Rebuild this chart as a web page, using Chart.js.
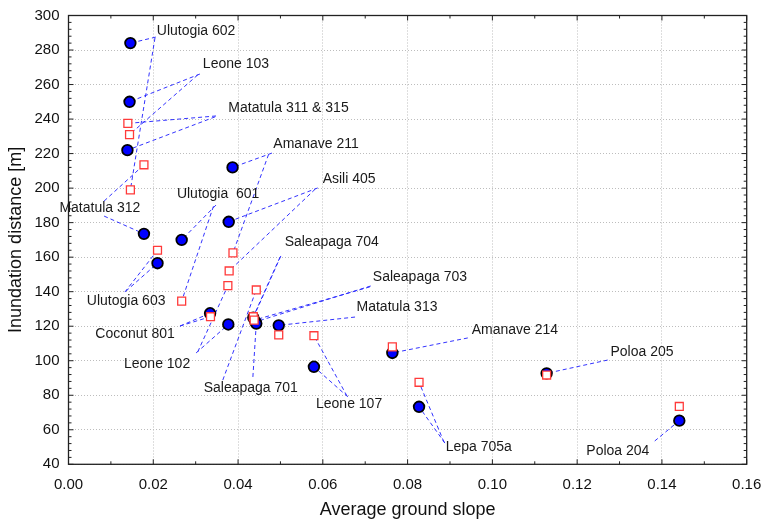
<!DOCTYPE html>
<html>
<head>
<meta charset="utf-8">
<script src="https://cdn.jsdelivr.net/npm/chart.js@4/dist/chart.umd.min.js"></script>
<style>
  html, body { margin: 0; padding: 0; background: #fff; }
  #wrap { width: 764px; height: 521px; }
</style>
</head>
<body>
<div id="wrap"><canvas id="c" width="764" height="521"></canvas></div>
<script>
// Sites, in label order
const siteNames = [
  'Ulutogia 602', 'Leone 103', 'Matatula 311 & 315', 'Amanave 211', 'Asili 405',
  'Ulutogia  601', 'Matatula 312', 'Ulutogia 603', 'Coconut 801', 'Leone 102',
  'Saleapaga 704', 'Saleapaga 703', 'Saleapaga 701', 'Matatula 313', 'Leone 107',
  'Amanave 214', 'Lepa 705a', 'Poloa 205', 'Poloa 204'
];

// Filled circles: average ground slope / inundation distance [m]
const circleSlope = [
  0.0146, 0.0144, 0.0139, 0.0387, 0.0378,
  0.0267, 0.0178, 0.0210, 0.0334, 0.0377,
  0.0436, 0.0441, 0.0443, 0.0496, 0.0579,
  0.0764, 0.0827, 0.1128, 0.1441
];
const circleDistance = [
  284, 250, 222, 212, 180.5,
  170, 173.5, 156.5, 127.5, 121,
  125, 122.5, 121.5, 120.5, 96.5,
  104.5, 73.3, 92.7, 65.3
];

// Open squares: average ground slope / inundation distance [m]
const squareSlope = [
  0.0146, 0.0144, 0.0140, 0.0388, 0.0379,
  0.0267, 0.0178, 0.0210, 0.0335, 0.0376,
  0.0436, 0.0438, 0.0443, 0.0496, 0.0579,
  0.0764, 0.0827, 0.1128, 0.1441
];
const squareDistance = [
  199, 231, 237.5, 162.5, 152,
  134.5, 213.5, 164, 125.5, 143.5,
  125.5, 123.5, 141, 115, 114.5,
  108, 87.5, 91.7, 73.5
];

// Axis ticks
const xTicks = [0.00, 0.02, 0.04, 0.06, 0.08, 0.10, 0.12, 0.14, 0.16];
const yTicks = [40, 60, 80, 100, 120, 140, 160, 180, 200, 220, 240, 260, 280, 300];

// Label text centres (axis units)
const labelSlope = [
  0.0301, 0.0395, 0.0519, 0.0584, 0.0662,
  0.0353, 0.0074, 0.0136, 0.0157, 0.0209,
  0.0621, 0.0829, 0.0430, 0.0775, 0.0662,
  0.1053, 0.0968, 0.1353, 0.1296
];
const labelDistance = [
  291.0, 271.9, 246.4, 225.6, 205.3,
  196.6, 188.5, 134.6, 115.5, 98.1,
  168.8, 148.5, 84.2, 131.1, 74.9,
  117.8, 50.0, 105.1, 47.7
];

// Leader lines: start point (axis units) and the mark it points to ('c' circle, 's' square)
const leaders = [
  [[0.0206, 287.5, 'c'], [0.0204, 287.0, 's']],
  [[0.0310, 266.1, 'c'], [0.0305, 265.6, 's']],
  [[0.0348, 241.8, 's'], [0.0346, 241.3, 'c']],
  [[0.0480, 220.3, 'c'], [0.0472, 219.5, 's']],
  [[0.0588, 200.1, 'c'], [0.0582, 199.4, 's']],
  [[0.0348, 190.2, 'c'], [0.0342, 189.5, 's']],
  [[0.0084, 183.8, 'c'], [0.0084, 192.5, 's']],
  [[0.0133, 139.8, 's'], [0.0135, 140.2, 'c']],
  [[0.0263, 120.1, 'c'], [0.0263, 120.1, 's']],
  [[0.0301, 104.5, 'c'], [0.0305, 105.2, 's']],
  [[0.0501, 160.7, 'c'], [0.0499, 160.0, 's']],
  [[0.0713, 143.3, 'c'], [0.0711, 142.8, 's']],
  [[0.0364, 88.8, 's'], [0.0435, 90.6, 'c']],
  [[0.0676, 125.3, 'c']],
  [[0.0659, 79.1, 'c'], [0.0657, 79.6, 's']],
  [[0.0942, 113.2, 'c']],
  [[0.0888, 52.3, 'c'], [0.0886, 52.8, 's']],
  [[0.1272, 100.4, 'c']],
  [[0.1383, 53.5, 'c']]
];

const FONT = "'Liberation Sans', Arial, sans-serif";

const circlePoints = circleSlope.map((x, i) => ({ x, y: circleDistance[i] }));
const squarePoints = squareSlope.map((x, i) => ({ x, y: squareDistance[i] }));

// Dashed leader lines under the marks, frame and inward ticks
const annotatePlugin = {
  id: 'annotate',
  beforeDatasetsDraw(chart) {
    const { ctx, chartArea: a, scales: { x, y } } = chart;
    ctx.save();
    // leader lines
    ctx.strokeStyle = 'rgba(40,40,255,0.95)';
    ctx.lineWidth = 1;
    ctx.setLineDash([4, 3]);
    leaders.forEach((list, i) => {
      list.forEach(([sx, sy, kind]) => {
        const tx = kind === 'c' ? circleSlope[i] : squareSlope[i];
        const ty = kind === 'c' ? circleDistance[i] : squareDistance[i];
        ctx.beginPath();
        ctx.moveTo(x.getPixelForValue(sx), y.getPixelForValue(sy));
        ctx.lineTo(x.getPixelForValue(tx), y.getPixelForValue(ty));
        ctx.stroke();
      });
    });
    ctx.setLineDash([]);

    // frame
    ctx.strokeStyle = '#222';
    ctx.lineWidth = 1.3;
    ctx.strokeRect(a.left, a.top, a.right - a.left, a.bottom - a.top);

    // inward ticks on all four sides
    ctx.lineWidth = 1;
    ctx.beginPath();
    for (let v = 0; v <= 16; v++) {
      const px = x.getPixelForValue(v * 0.01);
      const len = v % 2 === 0 ? 5 : 3;
      ctx.moveTo(px, a.bottom); ctx.lineTo(px, a.bottom - len);
      ctx.moveTo(px, a.top); ctx.lineTo(px, a.top + len);
    }
    for (let v = 40; v <= 300; v += 4) {
      const py = y.getPixelForValue(v);
      const len = (v - 40) % 20 === 0 ? 5 : 3;
      ctx.moveTo(a.left, py); ctx.lineTo(a.left + len, py);
      ctx.moveTo(a.right, py); ctx.lineTo(a.right - len, py);
    }
    ctx.stroke();
    ctx.restore();
  },
  afterDatasetsDraw(chart) {
    const { ctx, scales: { x, y } } = chart;
    ctx.save();
    ctx.font = '14px ' + FONT;
    ctx.fillStyle = '#1a1a1a';
    ctx.textAlign = 'center';
    ctx.textBaseline = 'middle';
    siteNames.forEach((name, i) => {
      ctx.fillText(name, x.getPixelForValue(labelSlope[i]), y.getPixelForValue(labelDistance[i]));
    });
    ctx.restore();
  }
};

new Chart(document.getElementById('c'), {
  type: 'scatter',
  data: {
    datasets: [
      {
        label: 'squares',
        data: squarePoints,
        pointStyle: 'rect',
        pointRadius: 5.6,
        pointHoverRadius: 5.6,
        backgroundColor: '#ffffff',
        borderColor: '#ff3a3a',
        pointBorderWidth: 1.3
      },
      {
        label: 'circles',
        data: circlePoints,
        pointStyle: 'circle',
        pointRadius: 5.3,
        pointHoverRadius: 5.3,
        backgroundColor: '#0000ff',
        borderColor: '#000000',
        pointBorderWidth: 1.8
      }
    ]
  },
  plugins: [annotatePlugin],
  options: {
    responsive: false,
    animation: false,
    events: [],
    layout: { padding: { left: 0, top: 15.5, right: 17.3, bottom: 0 } },
    plugins: { legend: { display: false }, tooltip: { enabled: false } },
    scales: {
      x: {
        type: 'linear',
        min: 0, max: 0.16,
        afterBuildTicks(scale) { scale.ticks = xTicks.map(v => ({ value: v })); },
        afterFit(scale) {
          scale.height = 56.7;
          scale.paddingLeft = 0;
          scale.paddingRight = 0;
        },
        ticks: {
          padding: 12,
          color: '#111',
          font: { family: FONT, size: 15 },
          callback: v => Number(v).toFixed(2)
        },
        grid: { color: '#bdbdbd', lineWidth: 1, drawTicks: false },
        border: { display: false, dash: [1, 2] },
        title: {
          display: true,
          text: 'Average ground slope',
          color: '#111',
          font: { family: FONT, size: 18 },
          padding: { top: 4, bottom: 0 }
        }
      },
      y: {
        type: 'linear',
        min: 40, max: 300,
        afterBuildTicks(scale) { scale.ticks = yTicks.map(v => ({ value: v })); },
        afterFit(scale) {
          scale.width = 68.5;
          scale.paddingTop = 0;
          scale.paddingBottom = 0;
        },
        ticks: {
          padding: 9,
          color: '#111',
          font: { family: FONT, size: 15 },
          callback: v => String(v)
        },
        grid: { color: '#bdbdbd', lineWidth: 1, drawTicks: false },
        border: { display: false, dash: [1, 2] },
        title: {
          display: true,
          text: 'Inundation distance [m]',
          color: '#111',
          font: { family: FONT, size: 18 },
          padding: { top: 5, bottom: 0 }
        }
      }
    }
  }
});
</script>
</body>
</html>
